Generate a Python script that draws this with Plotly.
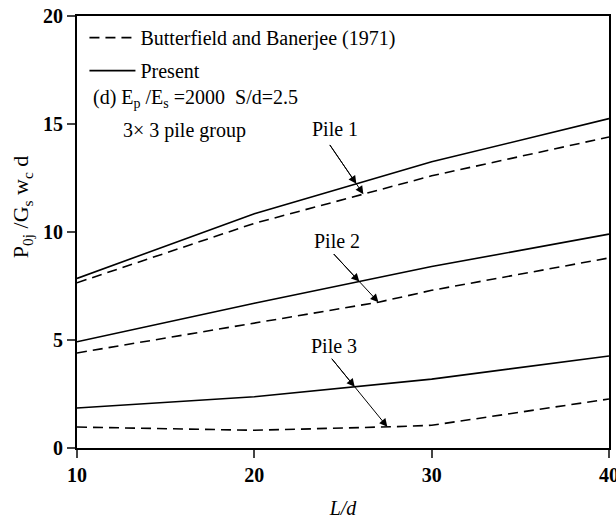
import numpy as np
import plotly.graph_objects as go

L_d = [10, 20, 30, 40]
pile1_present = [7.85, 10.85, 13.25, 15.25]
pile1_bb = [7.65, 10.4, 12.6, 14.4]
pile2_present = [4.92, 6.7, 8.4, 9.9]
pile2_bb_x = [10, 20, 27, 30, 40]
pile2_bb = [4.4, 5.8, 6.75, 7.3, 8.8]
pile3_present = [1.85, 2.37, 3.19, 4.26]
pile3_bb_x = [10, 20, 28, 30, 40]
pile3_bb = [0.97, 0.82, 0.99, 1.05, 2.27]

x_ticks = [10, 20, 30, 40]
y_ticks = [0, 5, 10, 15, 20]

FONT = "Times New Roman, Liberation Serif, serif"
dash = "10px,6px"

fig = go.Figure()

def add(x, y, dashed, name=None, show=False, group=None):
    fig.add_trace(go.Scatter(
        x=x, y=y, mode="lines",
        line=dict(color="black", width=1.6, dash=dash if dashed else "solid"),
        name=name, showlegend=show, legendgroup=group,
        hoverinfo="skip"))

add(L_d, pile1_bb, True, "Butterfield and Banerjee (1971)", True, "a")
add(L_d, pile1_present, False, "Present", True, "b")
add(pile2_bb_x, pile2_bb, True)
add(L_d, pile2_present, False)
add(pile3_bb_x, pile3_bb, True)
add(L_d, pile3_present, False)

# pile labels: (label, text L, text y, tail L, tail y, L on dashed, series)
piles = [
    ("Pile 1", 24.55, 14.78, 24.2, 14.1, 26.15,
     (L_d, pile1_present), (L_d, pile1_bb)),
    ("Pile 2", 24.66, 9.6, 24.4, 9.05, 27.0,
     (L_d, pile2_present), (pile2_bb_x, pile2_bb)),
    ("Pile 3", 24.5, 4.71, 24.3, 4.2, 27.5,
     (L_d, pile3_present), (pile3_bb_x, pile3_bb)),
]
for txt, tx, ty, ax_, ay_, ld, sol, dsh in piles:
    fig.add_annotation(
        x=tx, y=ty, xref="x", yref="y", text=txt, showarrow=False,
        font=dict(family=FONT, size=20, color="black"))
    dy_ = float(np.interp(ld, dsh[0], dsh[1]))
    # point where the straight tail->dashed line crosses the solid curve
    t = np.linspace(0, 1, 2001)
    lx = ax_ + t * (ld - ax_)
    ly = ay_ + t * (dy_ - ay_)
    diff = ly - np.interp(lx, sol[0], sol[1])
    k = int(np.argmax(diff <= 0))
    for hx, hy in ((float(lx[k]), float(ly[k])), (ld, dy_)):
        fig.add_annotation(
            x=hx, y=hy, ax=ax_, ay=ay_, axref="x", ayref="y", xref="x", yref="y",
            text="", showarrow=True, arrowhead=2, arrowsize=1.6, arrowwidth=1,
            arrowcolor="black", standoff=0)

fig.add_annotation(
    xref="paper", yref="paper", x=0.027, y=0.808, xanchor="left", yanchor="middle",
    text="(d) E<sub>p</sub>\u00a0/E<sub>s</sub>\u00a0=2000\u00a0\u00a0S/d=2.5", showarrow=False,
    font=dict(family=FONT, size=20, color="black"))
fig.add_annotation(
    xref="paper", yref="paper", x=0.083, y=0.734, xanchor="left", yanchor="middle",
    text="3×\u00a03 pile group", showarrow=False,
    font=dict(family=FONT, size=20, color="black"))

# y-axis title as rotated annotation (placed like the reference)
fig.add_annotation(
    xref="paper", yref="paper", x=-0.103, y=0.558, xanchor="center", yanchor="middle",
    textangle=-90, showarrow=False,
    text="P<sub>0j</sub>\u00a0/G<sub>s</sub>\u00a0w<sub>c</sub>\u00a0d",
    font=dict(family=FONT, size=22, color="black"))

fig.update_layout(
    width=616, height=527,
    margin=dict(l=77, r=7, t=16, b=79, autoexpand=False),
    paper_bgcolor="white", plot_bgcolor="white",
    font=dict(family=FONT, color="black"),
    legend=dict(x=0.014, y=0.995, xanchor="left", yanchor="top",
                bgcolor="rgba(0,0,0,0)", font=dict(family=FONT, size=20),
                traceorder="grouped", tracegroupgap=4, itemwidth=46),
)
fig.update_xaxes(
    range=[10, 40], tickvals=x_ticks, ticks="outside", ticklen=8, tickwidth=2,
    showline=True, linewidth=2, linecolor="black", mirror=True, showgrid=False,
    zeroline=False, ticklabeloverflow="allow", automargin=False,
    tickfont=dict(family=FONT, size=20, color="black", weight="bold"),
    title=dict(text="<i>L/d</i>", font=dict(family=FONT, size=20), standoff=16))
fig.update_yaxes(
    range=[0, 20], tickvals=y_ticks, ticks="outside", ticklen=8, tickwidth=2,
    showline=True, linewidth=2, linecolor="black", mirror=True, showgrid=False,
    zeroline=False, automargin=False,
    tickfont=dict(family=FONT, size=20, color="black", weight="bold"))

fig.write_html("out.html", config={"displayModeBar": False},
               post_script="document.body.style.margin='0';document.body.style.overflow='hidden';")
